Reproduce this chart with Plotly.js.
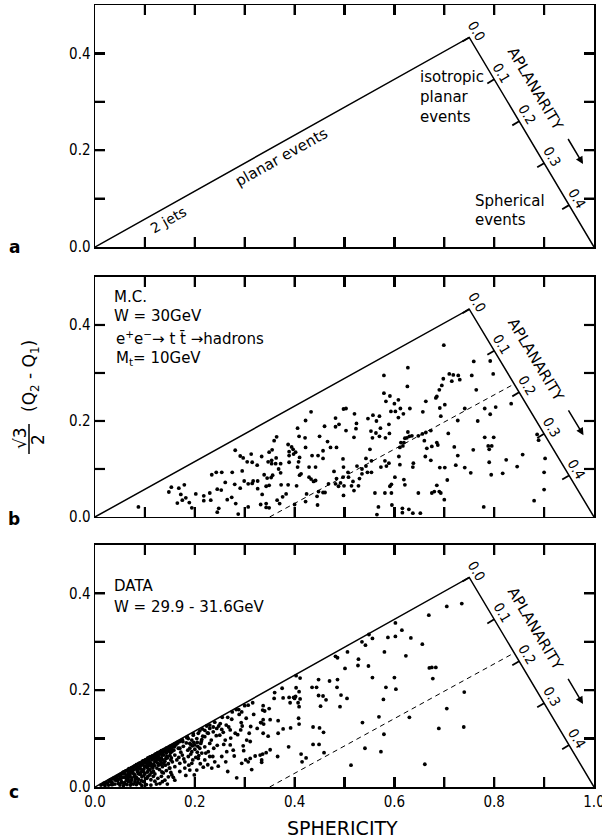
<!DOCTYPE html>
<html><head><meta charset="utf-8">
<script src="https://cdn.plot.ly/plotly-3.0.1.min.js"></script>
<style>body{margin:0;background:#fff}</style>
</head><body><div id="chart" style="width:602px;height:840px"></div>
<script>
// ---------- data ----------
const boundaryS=[0,0.75,1];
const boundaryQ=[0,0.433,0];
const cutS=[0.35,0.84];
const cutQ=[0,0.277];
const sphTickVals=[0,0.1,0.2,0.3,0.4,0.5,0.6,0.7,0.8,0.9,1.0];
const sphTickText=['0.0','','0.2','','0.4','','0.6','','0.8','','1.0'];
const qTickVals=[0,0.1,0.2,0.3,0.4];
const qTickText=['0.0','','0.2','','0.4'];
const aplTicks=[0.0,0.1,0.2,0.3,0.4];
const aplLabels=['0.0','0.1','0.2','0.3','0.4'];
const aplMax=0.5;

// panel b (Monte Carlo)
const bX=[0.087,0.148,0.153,0.168,0.179,0.172,0.182,0.165,0.175,0.189,0.194,0.202,0.218,0.218,0.232,0.230,0.234,0.243,0.254,0.245,0.253,0.261,0.248,0.245,0.265,0.274,0.275,0.280,0.282,0.287,0.281,0.291,0.297,0.291,0.295,0.299,0.305,0.307,0.307,0.313,0.315,0.315,0.317,0.325,0.326,0.326,0.334,0.332,0.335,0.339,0.343,
0.627,0.579,0.626,0.579,0.591,0.583,0.608,0.600,0.593,0.602,0.612,0.618,0.608,0.631,0.663,0.657,0.433,0.422,0.406,0.409,0.364,0.359,0.355,0.349,0.482,0.482,0.498,0.503,0.503,0.489,0.520,0.524,0.523,0.519,0.460,0.450,0.547,0.557,0.570,0.564,0.553,0.563,0.556,0.572,0.570,0.589,0.590,0.582,0.627,0.630,0.625,0.635,0.621,0.613,0.619,0.617,0.611,0.609,0.648,0.656,0.663,0.673,0.660,0.665,0.675,0.662,0.673,0.638,0.637,0.611,0.589,0.584,0.551,0.543,0.554,0.573,0.601,0.619,0.621,0.594,0.543,0.546,0.554,0.535,0.535,0.530,0.528,0.517,0.519,0.525,0.498,0.497,0.507,0.508,0.497,0.492,0.488,0.499,0.498,0.514,0.479,0.484,0.482,0.468,0.461,0.472,0.484,0.466,0.457,0.457,0.447,0.435,0.442,0.429,0.433,0.438,0.429,0.442,0.448,0.457,0.445,0.424,0.446,0.422,0.408,0.406,0.410,0.413,0.404,0.410,0.422,0.400,0.394,0.389,0.387,0.389,0.397,0.402,0.398,0.372,0.372,0.368,0.362,0.354,0.356,0.353,0.345,0.349,0.343,0.373,0.387,0.389,0.383,0.376,0.365,0.370,0.349,0.343,0.363,0.354,0.347,0.421,0.581,0.591,0.561,0.581,0.594,0.648,0.675,0.568,0.595,0.616,0.629,0.652,0.565,0.616,0.637,
0.699,0.759,0.792,0.798,0.755,0.764,0.710,0.718,0.728,0.731,0.715,0.698,0.695,0.690,0.685,0.683,0.701,0.691,0.693,0.741,0.781,0.792,0.803,0.834,0.767,0.727,0.708,0.685,0.687,0.720,0.727,0.758,0.781,0.799,0.788,0.795,0.790,0.790,0.824,0.857,0.846,0.886,0.889,0.902,0.900,0.900,0.880,0.817,0.794,0.753,0.741,0.723,0.701,0.691,0.706,0.685,0.680,0.690,0.700,0.693,0.779];
const bY=[0.021,0.052,0.062,0.060,0.067,0.047,0.040,0.029,0.035,0.030,0.019,0.048,0.044,0.034,0.035,0.050,0.088,0.093,0.093,0.058,0.056,0.072,0.018,0.010,0.036,0.041,0.093,0.068,0.028,0.006,0.139,0.127,0.123,0.060,0.096,0.075,0.115,0.021,0.069,0.131,0.114,0.070,0.075,0.108,0.075,0.059,0.126,0.026,0.047,0.088,0.020,
0.311,0.295,0.272,0.258,0.252,0.241,0.244,0.236,0.220,0.220,0.226,0.215,0.207,0.226,0.241,0.219,0.219,0.201,0.185,0.168,0.167,0.159,0.140,0.135,0.206,0.188,0.225,0.226,0.180,0.193,0.215,0.195,0.184,0.166,0.189,0.168,0.205,0.212,0.210,0.200,0.179,0.175,0.165,0.185,0.168,0.193,0.174,0.165,0.177,0.168,0.165,0.169,0.164,0.155,0.155,0.148,0.145,0.126,0.169,0.173,0.176,0.180,0.159,0.143,0.147,0.126,0.118,0.112,0.104,0.109,0.112,0.106,0.141,0.122,0.117,0.104,0.083,0.078,0.067,0.068,0.106,0.093,0.093,0.100,0.090,0.080,0.065,0.074,0.055,0.106,0.104,0.121,0.093,0.083,0.083,0.071,0.064,0.065,0.045,0.065,0.095,0.080,0.069,0.069,0.051,0.145,0.145,0.157,0.138,0.122,0.128,0.128,0.104,0.104,0.079,0.074,0.083,0.076,0.053,0.051,0.043,0.048,0.025,0.145,0.115,0.104,0.124,0.090,0.065,0.087,0.032,0.026,0.146,0.136,0.151,0.128,0.141,0.135,0.131,0.111,0.092,0.100,0.111,0.111,0.087,0.082,0.081,0.066,0.064,0.067,0.067,0.114,0.048,0.042,0.035,0.028,0.019,0.028,0.123,0.118,0.115,0.165,0.117,0.064,0.050,0.050,0.050,0.050,0.050,0.021,0.025,0.018,0.016,0.008,0.005,0.009,0.008,
0.358,0.324,0.325,0.298,0.295,0.265,0.298,0.296,0.295,0.286,0.283,0.288,0.274,0.265,0.251,0.248,0.234,0.227,0.210,0.226,0.226,0.214,0.229,0.236,0.200,0.201,0.174,0.155,0.150,0.146,0.128,0.140,0.166,0.166,0.148,0.148,0.141,0.114,0.119,0.130,0.105,0.172,0.160,0.122,0.093,0.057,0.034,0.091,0.088,0.092,0.103,0.108,0.103,0.103,0.077,0.066,0.053,0.053,0.036,0.050,0.021];

// panel c (data)
const cX=[0.669,0.602,0.615,0.602,0.587,0.633,0.549,0.556,0.535,0.542,0.580,0.506,0.482,0.486,0.528,0.527,0.548,0.501,0.623,0.656,0.670,0.556,0.600,0.583,0.603,0.578,0.411,0.403,0.448,0.470,0.486,0.435,0.444,0.485,0.448,0.457,0.463,0.493,0.505,0.452,0.491,0.403,0.409,0.402,0.411,0.407,0.409,0.398,0.391,0.400,0.375,0.360,0.359,0.377,0.389,0.337,0.336,0.349,0.340,0.351,0.337,0.333,0.338,0.367,0.377,0.392,0.408,0.409,0.367,0.347,0.337,0.437,0.450,0.458,0.437,0.449,0.388,0.351,0.343,0.336,0.366,0.334,0.413,0.415,0.423,0.459,0.536,0.569,0.579,0.541,0.573,0.630,0.513,0.661,
0.705,0.735,0.675,0.683,0.677,0.740,0.705,0.689,0.739,
0.316,0.307,0.294,0.289,0.293,0.295,0.309,0.304,0.311,0.281,0.271,0.266,0.248,0.244,0.254,0.237,0.250,0.261,0.271,0.277,0.264,0.254,0.240,0.247,0.266,0.284,0.294,0.302,0.311,0.321,0.331,0.334,0.314,0.307,0.332,0.230,0.220,0.227,0.214,0.207,0.220,0.230,0.234,0.217,0.204,0.194,0.180,0.170,0.187,0.175,0.167,0.177,0.190,0.194,0.200,0.194,0.204,0.214,0.220,0.207,0.197,0.190,0.187,0.184,0.197,0.210,0.220,0.230,0.227,0.230,0.237,0.224,0.164,0.159,0.154,0.160,0.152,0.164,0.160,0.150,0.170,0.180,0.190,0.147,0.140,0.130,0.160,0.170,0.150,0.144,0.137,0.134,0.142,0.130,0.137,0.127,0.120,0.124,0.114,0.117,0.107,0.110,0.100,0.104,0.094,0.097,0.087,0.080,0.090,0.073,0.077,0.067,0.060,0.063,0.053,0.047,0.040,0.033,0.027,0.020,0.070,0.080,0.087,0.094,0.100,0.107,0.114,0.117,0.124,0.127,0.130,
0.030,0.036,0.042,0.048,0.055,0.058,0.064,0.068,0.074,0.079,0.083,0.088,0.092,0.096,0.101,0.106,0.110,0.115,0.121,0.126,0.133,0.138,0.143,0.148,0.155,0.160,
0.045,0.052,0.058,0.063,0.067,0.072,0.076,0.082,0.086,0.091,0.096,0.102,0.108,0.112,0.118,0.122,0.127,0.133,0.138,0.143,0.148,0.153,0.158,
0.050,0.057,0.064,0.071,0.083,0.094,0.103,0.112,0.123,0.066,0.074,0.083,0.091,0.078,0.085,0.092,0.098,0.105,0.110,0.113,0.120,0.119,0.125,0.131,0.129,0.135,0.140,0.145,0.150,0.147,0.143,0.137,0.133,0.126,0.120,0.112,0.155,0.152,0.157,0.135,0.145,0.117,0.106,0.093,0.086,0.072,0.065,
0.195,0.200,0.205,0.210,0.205,0.198,0.192,0.212,0.208,
0.165,0.175,0.185,0.215,0.240,0.255,0.275,0.283,0.300,
0.012,0.016,0.022,0.025,0.031,0.034,0.038,0.041,0.044,0.047,0.051,0.054,0.056,0.059,0.061,0.065,0.069,0.070,0.073,0.075,0.078,0.081,0.084,0.086,0.089,0.091,0.095,0.098,0.099,0.103,0.105,0.108,0.109,0.113,0.116,0.118,0.121,0.124,0.128,0.131,0.134,0.136,0.139,0.141,0.144,0.146,0.149,0.151,0.154,0.156,
0.018,0.028,0.035,0.043,0.050,0.053,0.060,0.062,0.068,0.071,0.077,0.079,0.085,0.088,0.093,0.097,0.100,0.104,0.107,0.111,0.114,0.117,0.122,0.125,0.129,0.132,0.136,0.140,0.145,0.150,0.153,0.158,0.162,0.166,0.170,
0.172,0.178,0.183,0.188,0.192,0.196,0.202,0.206,0.211,0.216,0.222,0.226,0.233,0.238,0.243,0.251,0.258,0.262,0.268,0.274,0.279,0.286,0.292,0.297,0.303,0.318,0.325,0.182,0.168,0.176,0.186,0.199,0.213,0.225,0.236,0.245,0.257,0.263,0.272,0.288,0.298,0.312];
const cY=[0.355,0.339,0.324,0.311,0.309,0.308,0.315,0.307,0.300,0.293,0.279,0.279,0.270,0.267,0.264,0.251,0.250,0.245,0.271,0.295,0.246,0.226,0.226,0.206,0.202,0.181,0.225,0.230,0.222,0.219,0.222,0.206,0.206,0.206,0.189,0.188,0.180,0.190,0.183,0.167,0.166,0.205,0.197,0.187,0.182,0.174,0.166,0.185,0.174,0.183,0.204,0.195,0.183,0.184,0.185,0.168,0.159,0.162,0.157,0.139,0.139,0.133,0.130,0.137,0.120,0.122,0.142,0.130,0.111,0.105,0.111,0.124,0.122,0.113,0.088,0.088,0.083,0.077,0.071,0.068,0.063,0.051,0.068,0.052,0.060,0.071,0.133,0.145,0.109,0.080,0.073,0.144,0.045,0.047,
0.373,0.379,0.247,0.247,0.224,0.196,0.162,0.121,0.124,
0.174,0.169,0.155,0.150,0.133,0.126,0.111,0.097,0.094,0.111,0.118,0.144,0.126,0.121,0.119,0.114,0.107,0.097,0.087,0.076,0.073,0.063,0.052,0.043,0.032,0.019,0.049,0.056,0.059,0.064,0.066,0.056,0.036,0.052,0.133,0.090,0.083,0.073,0.070,0.059,0.056,0.063,0.039,0.041,0.035,0.049,0.052,0.049,0.063,0.066,0.080,0.084,0.080,0.073,0.087,0.097,0.100,0.098,0.104,0.111,0.107,0.090,0.100,0.102,0.110,0.116,0.117,0.128,0.111,0.121,0.124,0.126,0.090,0.083,0.073,0.066,0.056,0.056,0.042,0.039,0.032,0.039,0.035,0.021,0.014,0.007,0.014,0.080,0.084,0.076,0.073,0.066,0.059,0.056,0.049,0.045,0.052,0.039,0.042,0.032,0.035,0.025,0.028,0.018,0.021,0.011,0.016,0.011,0.007,0.014,0.006,0.011,0.007,0.014,0.011,0.007,0.006,0.005,0.004,0.003,0.021,0.025,0.028,0.035,0.042,0.049,0.056,0.063,0.066,0.070,0.072,
0.012,0.017,0.020,0.024,0.027,0.031,0.034,0.038,0.040,0.043,0.046,0.049,0.050,0.054,0.056,0.060,0.062,0.064,0.068,0.071,0.075,0.077,0.080,0.082,0.086,0.089,
0.013,0.017,0.020,0.024,0.028,0.031,0.034,0.037,0.040,0.044,0.046,0.050,0.053,0.047,0.058,0.061,0.063,0.060,0.066,0.070,0.074,0.078,0.076,
0.004,0.003,0.005,0.004,0.005,0.003,0.005,0.004,0.006,0.018,0.019,0.020,0.026,0.027,0.032,0.030,0.037,0.040,0.036,0.030,0.027,0.044,0.050,0.047,0.036,0.042,0.053,0.060,0.065,0.048,0.034,0.029,0.022,0.018,0.012,0.015,0.052,0.030,0.020,0.011,0.006,0.022,0.022,0.013,0.010,0.009,0.024,
0.085,0.078,0.072,0.080,0.092,0.092,0.088,0.090,0.065,
0.092,0.098,0.104,0.120,0.134,0.144,0.155,0.160,0.168,
0.004,0.006,0.009,0.008,0.015,0.010,0.019,0.014,0.022,0.016,0.026,0.020,0.030,0.009,0.033,0.016,0.036,0.025,0.039,0.029,0.042,0.016,0.045,0.034,0.048,0.038,0.052,0.024,0.043,0.055,0.031,0.058,0.044,0.061,0.039,0.065,0.054,0.069,0.058,0.072,0.031,0.056,0.076,0.045,0.063,0.079,0.039,0.071,0.025,0.083,
0.008,0.013,0.005,0.017,0.021,0.009,0.027,0.019,0.032,0.013,0.036,0.022,0.041,0.027,0.047,0.032,0.051,0.045,0.055,0.050,0.060,0.047,0.064,0.057,0.068,0.052,0.070,0.074,0.077,0.080,0.060,0.085,0.087,0.091,0.094,
0.072,0.058,0.091,0.045,0.068,0.056,0.061,0.084,0.048,0.105,0.070,0.046,0.097,0.080,0.106,0.131,0.088,0.052,0.124,0.140,0.064,0.108,0.118,0.085,0.142,0.150,0.121,0.024,0.061,0.094,0.076,0.025,0.094,0.112,0.063,0.086,0.113,0.128,0.101,0.160,0.075,0.125];

// ---------- layout geometry ----------
const W=602,H=840,M={l:95,r:8,t:5,b:53};
const pw=W-M.l-M.r, ph=H-M.t-M.b;
const panels=[
  {xa:'x3',ya:'y3',xk:'xaxis3',yk:'yaxis3',dom:[0.6905,1],letter:'a',lpy:247},
  {xa:'x2',ya:'y2',xk:'xaxis2',yk:'yaxis2',dom:[0.3453,0.6522],letter:'b',lpy:519},
  {xa:'x',ya:'y',xk:'xaxis',yk:'yaxis',dom:[0,0.3095],letter:'c',lpy:792}];
panels.forEach(p=>{p.sx=pw; p.sy=(p.dom[1]-p.dom[0])*ph/0.5;});
const paperX=px=>(px-M.l)/pw, paperY=py=>(H-M.b-py)/ph;

const FONT='DejaVu Sans';
const NUMFONT='DejaVu Sans Condensed';
const TL=10, TW=2.2;
const traces=[], annotations=[], shapes=[];
const layout={width:W,height:H,margin:M,showlegend:false,font:{family:FONT,color:'#000'}};

panels.forEach((p,i)=>{
  const last=(i===2);
  layout[p.xk]={domain:[0,1],range:[0,1],anchor:p.ya,showline:true,mirror:'ticks',linecolor:'#000',linewidth:1.5,
    ticks:'inside',ticklen:TL,tickwidth:TW,tickcolor:'#000',tickmode:'array',tickvals:sphTickVals,ticktext:sphTickText,
    showticklabels:last,ticklabeloverflow:'allow',tickfont:{family:NUMFONT,size:15,color:'#000'},showgrid:false,zeroline:false};
  layout[p.yk]={domain:p.dom,range:[0,0.5],anchor:p.xa,showline:true,mirror:'ticks',linecolor:'#000',linewidth:1.5,
    ticks:'inside',ticklen:TL,tickwidth:TW,tickcolor:'#000',tickmode:'array',tickvals:qTickVals,ticktext:qTickText,
    tickfont:{family:NUMFONT,size:15,color:'#000'},showgrid:false,zeroline:false};

  // inside tick marks on all four sides, at the axis tick values
  const fx=[],fy=[];
  const hx=TL/p.sx, hy=TL/p.sy;
  sphTickVals.forEach(v=>{
    if(v<=0||v>=1) return;
    fx.push(v,v,null,v,v,null); fy.push(0,hy,null,0.5,0.5-hy,null);
  });
  qTickVals.forEach(v=>{
    if(v<=0) return;
    fx.push(0,hx,null,1,1-hx,null); fy.push(v,v,null,v,v,null);
  });
  traces.push({x:fx,y:fy,xaxis:p.xa,yaxis:p.ya,mode:'lines',line:{color:'#000',width:TW},hoverinfo:'skip'});

  traces.push({x:boundaryS,y:boundaryQ,xaxis:p.xa,yaxis:p.ya,mode:'lines',line:{color:'#000',width:1.5},hoverinfo:'skip'});

  const V=[boundaryS[1],boundaryQ[1]], E=[boundaryS[2],boundaryQ[2]];
  const ux=(E[0]-V[0])*p.sx, uy=(V[1]-E[1])*p.sy, ul=Math.hypot(ux,uy);
  const u=[ux/ul,uy/ul];
  const n=[u[1],-u[0]];
  const ang=Math.atan2(u[1],u[0])*180/Math.PI;
  const pt=(base,a,b)=>[base[0]+(a*u[0]+b*n[0])/p.sx, base[1]-(a*u[1]+b*n[1])/p.sy];
  const tx=[],ty=[];
  aplTicks.forEach((A,k)=>{
    const t=A/aplMax;
    const e=[V[0]+(E[0]-V[0])*t, V[1]+(E[1]-V[1])*t];
    const q=pt(e,0,-8);
    tx.push(e[0],q[0],null); ty.push(e[1],q[1],null);
    const L=pt(e,-2,10);
    annotations.push({x:L[0],y:L[1],xref:p.xa,yref:p.ya,text:aplLabels[k],showarrow:false,textangle:ang,
      xanchor:'center',yanchor:'middle',font:{family:NUMFONT,size:14,color:'#000'}});
  });
  traces.push({x:tx,y:ty,xaxis:p.xa,yaxis:p.ya,mode:'lines',line:{color:'#000',width:1.8},hoverinfo:'skip'});
  const AL=pt(V,78,31);
  annotations.push({x:AL[0],y:AL[1],xref:p.xa,yref:p.ya,text:'APLANARITY',showarrow:false,textangle:ang,
    xanchor:'center',yanchor:'middle',font:{family:FONT,size:15,color:'#000'}});
  const AH=pt(V,167,33);
  annotations.push({x:AH[0],y:AH[1],xref:p.xa,yref:p.ya,text:' ',showarrow:true,arrowhead:2,arrowsize:1,arrowwidth:1.5,
    arrowcolor:'#000',ax:-36*u[0],ay:-36*u[1]});

  annotations.push({x:paperX(14),y:paperY(p.lpy),xref:'paper',yref:'paper',text:'<b>'+p.letter+'</b>',showarrow:false,
    xanchor:'center',yanchor:'middle',font:{family:FONT,size:17,color:'#000'}});

  if(i>0){
    traces.push({x:cutS,y:cutQ,xaxis:p.xa,yaxis:p.ya,mode:'lines',line:{color:'#000',width:1,dash:'5px,4px'},hoverinfo:'skip'});
  }
});

{
  const p=panels[0];
  const vx=boundaryS[1]*p.sx, vy=-boundaryQ[1]*p.sy, vl=Math.hypot(vx,vy);
  const v=[vx/vl,vy/vl], m=[-v[1],v[0]];
  const ang=Math.atan2(v[1],v[0])*180/Math.PI;
  const pt=(a,b)=>[(a*v[0]+b*m[0])/p.sx, -(a*v[1]+b*m[1])/p.sy];
  const j=pt(77,12), pe=pt(207,13);
  annotations.push({x:j[0],y:j[1],xref:p.xa,yref:p.ya,text:'2 jets',showarrow:false,textangle:ang,xanchor:'center',yanchor:'middle',font:{family:FONT,size:14}});
  annotations.push({x:pe[0],y:pe[1],xref:p.xa,yref:p.ya,text:'planar events',showarrow:false,textangle:ang,xanchor:'center',yanchor:'middle',font:{family:FONT,size:15}});
  const tl=(txt,px,py)=>annotations.push({x:(px-M.l)/p.sx,y:(247-py)/p.sy,xref:p.xa,yref:p.ya,text:txt,showarrow:false,xanchor:'left',yanchor:'middle',font:{family:FONT,size:15}});
  tl('isotropic',418,77); tl('planar',418,97); tl('events',418,117);
  tl('Spherical',473,201); tl('events',473,220);
}
{
  const p=panels[1];
  const tl=(txt,px,py)=>annotations.push({x:(px-M.l)/p.sx,y:py,xref:p.xa,yref:p.ya,text:txt,showarrow:false,xanchor:'left',yanchor:'middle',font:{family:FONT,size:15}});
  tl('M.C.',112,0.458); tl('W = 30GeV',112,0.418);
  tl('e<sup>+</sup>e<sup>−</sup>→ t t\u0304 →hadrons',114,0.372);
  tl('M<sub>t</sub>= 10GeV',114,0.331);
}
{
  const p=panels[2];
  const tl=(txt,px,py)=>annotations.push({x:(px-M.l)/p.sx,y:py,xref:p.xa,yref:p.ya,text:txt,showarrow:false,xanchor:'left',yanchor:'middle',font:{family:FONT,size:15}});
  tl('DATA',112,0.415); tl('W = 29.9 - 31.6GeV',112,0.372);
}

traces.push({x:bX,y:bY,xaxis:'x2',yaxis:'y2',mode:'markers',marker:{color:'#000',size:3.8},hoverinfo:'skip'});
traces.push({x:cX,y:cY,xaxis:'x',yaxis:'y',mode:'markers',marker:{color:'#000',size:3.8},hoverinfo:'skip'});

annotations.push({x:paperX(342),y:paperY(828),xref:'paper',yref:'paper',text:'SPHERICITY',showarrow:false,xanchor:'center',yanchor:'middle',font:{family:FONT,size:19}});
annotations.push({x:paperX(20),y:paperY(438),xref:'paper',yref:'paper',text:'√3',showarrow:false,textangle:-90,xanchor:'center',yanchor:'middle',font:{family:FONT,size:17}});
annotations.push({x:paperX(38),y:paperY(440),xref:'paper',yref:'paper',text:'2',showarrow:false,textangle:-90,xanchor:'center',yanchor:'middle',font:{family:FONT,size:17}});
shapes.push({type:'line',xref:'paper',yref:'paper',x0:paperX(29),x1:paperX(29),y0:paperY(424),y1:paperY(454),line:{color:'#000',width:1.5}});
annotations.push({x:paperX(30),y:paperY(376),xref:'paper',yref:'paper',text:'(Q<sub>2</sub> - Q<sub>1</sub>)',showarrow:false,textangle:-90,xanchor:'center',yanchor:'middle',font:{family:FONT,size:17}});

layout.annotations=annotations;
layout.shapes=shapes;
Plotly.newPlot('chart',traces,layout,{staticPlot:true});
</script></body></html>
